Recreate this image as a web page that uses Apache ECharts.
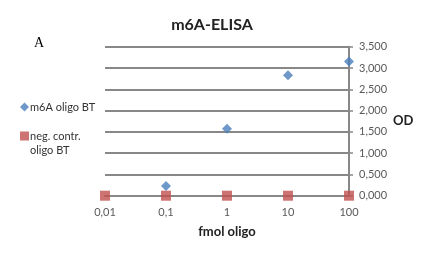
<!DOCTYPE html>
<html>
<head>
<meta charset="utf-8">
<script src="https://cdn.jsdelivr.net/npm/echarts@6/dist/echarts.min.js"></script>
<style>html,body{margin:0;padding:0;background:#fff}#c{width:424px;height:255px}</style>
</head>
<body>
<div id="c"></div>
<script>
const xM6A = [0.1, 1, 10, 100];
const yM6A = [0.23, 1.57, 2.83, 3.15];
const xNeg = [0.01, 0.1, 1, 10, 100];
const yNeg = [0, 0, 0, 0, 0];
const seriesNames = ['m6A oligo BT', 'neg. contr. oligo BT'];
const titleText = 'm6A-ELISA';
const xName = 'fmol oligo';
const yName = 'OD';
const panelLabel = 'A';

const FONT = 'Lato, "Open Sans", sans-serif';
const chart = echarts.init(document.getElementById('c'), null, {renderer: 'canvas'});
const fmtX = v => String(+(+v).toPrecision(6)).replace('.', ',');
chart.setOption({
  animation: false,
  backgroundColor: '#fff',
  title: {
    text: titleText, left: 'center', top: 12,
    textStyle: {fontFamily: FONT, fontSize: 16, fontWeight: 'bold', color: '#222'}
  },
  graphic: [{
    type: 'text', left: 34, top: 36,
    style: {text: panelLabel, font: '14px "Liberation Serif", "DejaVu Serif", serif', fill: '#000'}
  }],
  legend: {
    orient: 'vertical', left: 15, top: 95, itemGap: 1,
    itemWidth: 9, itemHeight: 9,
    data: [{name: seriesNames[0], icon: 'diamond'}, {name: seriesNames[1], icon: 'rect'}],
    formatter: n => n === seriesNames[1] ? '\nneg. contr.\noligo BT' : n,
    textStyle: {fontFamily: FONT, fontSize: 11, color: '#333', lineHeight: 14, padding: [0,0,0,-4]}
  },
  grid: {left: 105, right: 75, top: 46.7, bottom: 59.3, containLabel: false},
  xAxis: {
    type: 'log', logBase: 10, min: 0.01, max: 100,
    name: xName, nameLocation: 'middle', nameGap: 30,
    nameTextStyle: {fontFamily: FONT, fontSize: 13, fontWeight: 'bold', color: '#222'},
    axisLine: {show: true, lineStyle: {color: '#888', width: 2}},
    axisTick: {show: false},
    splitLine: {show: false},
    minorTick: {show: false},
    axisLabel: {formatter: fmtX, margin: 11, fontFamily: FONT, fontSize: 11, color: '#595959'}
  },
  yAxis: {
    type: 'value', position: 'right', min: 0, max: 3.5, interval: 0.5,
    name: yName, nameLocation: 'middle', nameRotate: 0, nameGap: 42,
    nameTextStyle: {fontFamily: FONT, fontSize: 13, fontWeight: 'bold', color: '#222', padding: [6,0,0,0]},
    axisLine: {show: true, lineStyle: {color: '#888', width: 2}},
    axisTick: {show: true, length: 4, lineStyle: {color: '#888', width: 1.5}},
    splitLine: {show: true, lineStyle: {color: '#888', width: 2}},
    axisLabel: {formatter: v => v.toFixed(3).replace('.', ','), margin: 10, fontFamily: FONT, fontSize: 11, color: '#595959'}
  },
  series: [
    {name: seriesNames[0], type: 'scatter', symbol: 'diamond', symbolSize: 10,
     itemStyle: {color: '#4a7ebb'}, data: xM6A.map((x, i) => [x, yM6A[i]]), z: 2},
    {name: seriesNames[1], type: 'scatter', symbol: 'rect', symbolSize: 10,
     itemStyle: {color: '#c0504d'}, data: xNeg.map((x, i) => [x, yNeg[i]]), z: 3}
  ]
});
</script>
</body>
</html>
